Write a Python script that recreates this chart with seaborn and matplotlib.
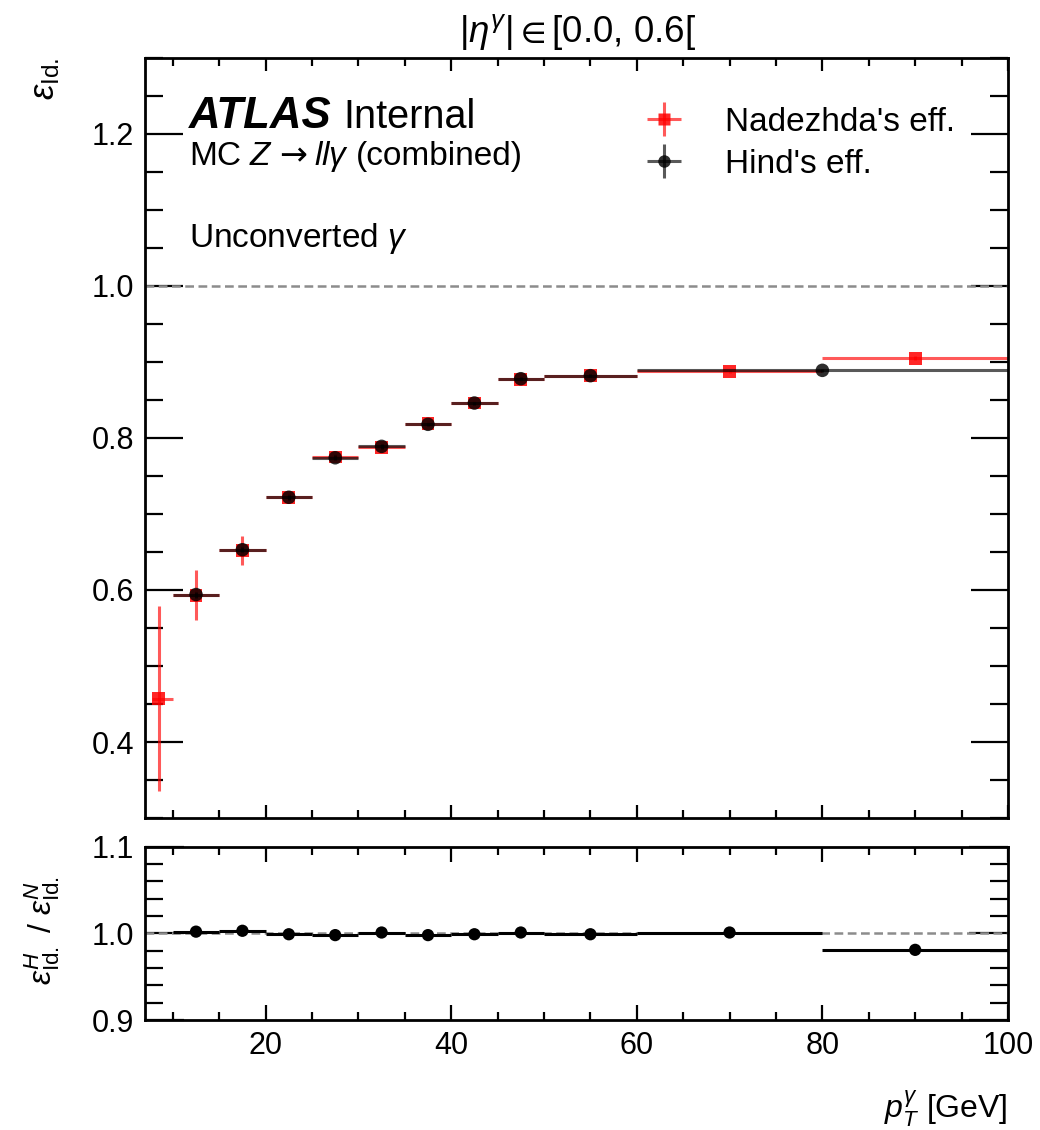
import numpy as np
import pandas as pd
import matplotlib
matplotlib.use("Agg")
import matplotlib.pyplot as plt
import seaborn as sns
from matplotlib.ticker import MultipleLocator, NullFormatter
from matplotlib.lines import Line2D

# ---------------- data ----------------
# Nadezhda's efficiency (red squares)
n_pt = [8.5, 12.5, 17.5, 22.5, 27.5, 32.5, 37.5, 42.5, 47.5, 55.0, 70.0, 90.0]
n_xlo = [0.75, 2.5, 2.5, 2.5, 2.5, 2.5, 2.5, 2.5, 2.5, 5.0, 10.0, 10.0]
n_xhi = [1.5, 2.5, 2.5, 2.5, 2.5, 2.5, 2.5, 2.5, 2.5, 5.0, 10.0, 10.0]
n_eff = [0.457, 0.593, 0.652, 0.722, 0.775, 0.788, 0.819, 0.846, 0.877, 0.882, 0.888, 0.905]
n_err = [0.122, 0.033, 0.019, 0.005, 0.004, 0.004, 0.003, 0.003, 0.003, 0.002, 0.002, 0.003]

# Hind's efficiency (black circles)
h_pt = [12.5, 17.5, 22.5, 27.5, 32.5, 37.5, 42.5, 47.5, 55.0, 80.0]
h_xerr = [2.5, 2.5, 2.5, 2.5, 2.5, 2.5, 2.5, 2.5, 5.0, 20.0]
h_eff = [0.594, 0.653, 0.722, 0.774, 0.789, 0.818, 0.846, 0.878, 0.882, 0.889]
h_err = [0.004, 0.003, 0.003, 0.003, 0.003, 0.002, 0.002, 0.002, 0.002, 0.002]

# ratio H / N
r_pt = [12.5, 17.5, 22.5, 27.5, 32.5, 37.5, 42.5, 47.5, 55.0, 70.0, 90.0]
r_xerr = [2.5, 2.5, 2.5, 2.5, 2.5, 2.5, 2.5, 2.5, 5.0, 10.0, 10.0]
r_val = [1.002, 1.003, 0.999, 0.998, 1.001, 0.998, 0.999, 1.001, 0.999, 1.001, 0.981]

x_ticks = [20, 40, 60, 80, 100]
main_yticks = [0.4, 0.6, 0.8, 1.0, 1.2]
ratio_yticks = [0.9, 1.0, 1.1]

df_n = pd.DataFrame({"pt": n_pt, "eff": n_eff})
df_h = pd.DataFrame({"pt": h_pt, "eff": h_eff})
df_r = pd.DataFrame({"pt": r_pt, "ratio": r_val})

# ---------------- style ----------------
sns.set_theme(style="ticks")
plt.rcParams["font.family"] = ["Liberation Sans", "DejaVu Sans"]
plt.rcParams["mathtext.fontset"] = "custom"
plt.rcParams["mathtext.rm"] = "Liberation Sans"
plt.rcParams["mathtext.it"] = "Liberation Sans:italic"
plt.rcParams["mathtext.bf"] = "Liberation Sans:bold"
plt.rcParams["mathtext.fallback"] = "stixsans"
plt.rcParams["axes.linewidth"] = 2.0
for k in ["text.color", "axes.labelcolor", "xtick.color", "ytick.color", "axes.edgecolor"]:
    plt.rcParams[k] = "black"

RED = "#ff0000"
BLK = "#000000"
DASH = (0, (3.5, 1.8))

fig = plt.figure(figsize=(10.4, 11.3), dpi=100)
ax = fig.add_axes([0.1394, 0.2761, 0.8298, 0.6726])
rax = fig.add_axes([0.1394, 0.0973, 0.8298, 0.1534])

# ---------------- main panel ----------------
ax.axhline(1.0, color="#8c8c8c", lw=1.8, ls=DASH, zorder=1)

eb_n = ax.errorbar(n_pt, n_eff, xerr=[n_xlo, n_xhi], yerr=n_err, fmt="none",
                   ecolor=RED, elinewidth=2.2, alpha=0.65, capsize=0, zorder=2)
sns.scatterplot(data=df_n, x="pt", y="eff", marker="s", s=85, color=RED,
                edgecolor="none", alpha=0.85, ax=ax, zorder=3, legend=False)

eb_h = ax.errorbar(h_pt, h_eff, xerr=h_xerr, yerr=h_err, fmt="none",
                   ecolor=BLK, elinewidth=2.2, alpha=0.65, capsize=0, zorder=4)
sns.scatterplot(data=df_h, x="pt", y="eff", marker="o", s=95, color=BLK,
                edgecolor="none", alpha=0.82, ax=ax, zorder=5, legend=False)

ax.set_xlim(7, 100)
ax.set_ylim(0.3, 1.3)
ax.set_xlabel("")
ax.set_ylabel("")
ax.xaxis.set_major_locator(plt.FixedLocator(x_ticks))
ax.xaxis.set_minor_locator(MultipleLocator(5))
ax.xaxis.set_major_formatter(NullFormatter())
ax.yaxis.set_major_locator(plt.FixedLocator(main_yticks))
ax.yaxis.set_minor_locator(MultipleLocator(0.05))
ax.set_yticklabels([f"{v:.1f}" for v in main_yticks])
ax.tick_params(axis="both", which="both", direction="in", top=True, right=True,
               width=1.6, colors="black")
ax.tick_params(axis="y", which="major", length=27, labelsize=22, pad=8)
ax.tick_params(axis="y", which="minor", length=13)
ax.tick_params(axis="x", which="major", length=9.5)
ax.tick_params(axis="x", which="minor", length=5.5)

# legend
h_red = (eb_n, Line2D([], [], marker="s", ls="none", color=RED, ms=9, alpha=0.85, mec="none"))
h_blk = (eb_h, Line2D([], [], marker="o", ls="none", color=BLK, ms=9, alpha=0.82, mec="none"))
ax.legend([h_red, h_blk], ["Nadezhda's eff.", "Hind's eff."], loc="upper left",
          bbox_to_anchor=(0.5817, 0.936), frameon=False, fontsize=24,
          handlelength=1.02, handletextpad=1.32, labelspacing=0.33, borderpad=0,
          borderaxespad=0)

# annotations
def axfrac(px):
    return (px - 145) / 863

ax.text(axfrac(189), 0.9079, "ATLAS", transform=ax.transAxes, fontsize=31.5,
        fontweight="bold", fontstyle="italic", va="baseline")
ax.text(axfrac(343), 0.9079, "Internal", transform=ax.transAxes, fontsize=28.5, va="baseline")
mc_parts = [("MC", 189, None), (r"$Z$", 249, None), ("\u2192", 279, ["DejaVu Sans"]),
            (r"$ll\gamma$", 314, None), ("(combined)", 356, None)]
for s, px, fam in mc_parts:
    kw = {"family": fam} if fam else {}
    ax.text(axfrac(px), 0.8592, s, transform=ax.transAxes, fontsize=24,
            va="baseline", **kw)
ax.text(axfrac(189), 0.7513, r"Unconverted $\gamma$", transform=ax.transAxes,
        fontsize=24, va="baseline")

fig.text(0.555, 1 - 42 / 1130, r"$|\eta^{\gamma}| \in $[0.0, 0.6[", ha="center",
         va="baseline", fontsize=26.5)
fig.text(45 / 1040, 1 - 58 / 1130, r"$\varepsilon_{\mathrm{Id.}}$", rotation=90,
         ha="center", va="top", fontsize=25)

# ---------------- ratio panel ----------------
rax.axhline(1.0, color="#8c8c8c", lw=1.8, ls=DASH, zorder=1)
rax.errorbar(r_pt, r_val, xerr=r_xerr, fmt="none", ecolor=BLK, elinewidth=2.2,
             capsize=0, zorder=2)
sns.scatterplot(data=df_r, x="pt", y="ratio", marker="o", s=78, color=BLK,
                edgecolor="none", ax=rax, zorder=3, legend=False)
rax.set_xlim(7, 100)
rax.set_ylim(0.9, 1.1)
rax.set_xlabel("")
rax.set_ylabel("")
rax.xaxis.set_major_locator(plt.FixedLocator(x_ticks))
rax.xaxis.set_minor_locator(MultipleLocator(5))
rax.set_xticklabels([str(v) for v in x_ticks])
rax.yaxis.set_major_locator(plt.FixedLocator(ratio_yticks))
rax.yaxis.set_minor_locator(MultipleLocator(0.02))
rax.set_yticklabels([f"{v:.1f}" for v in ratio_yticks])
rax.tick_params(axis="both", which="both", direction="in", top=True, right=True,
                width=1.6, colors="black")
rax.tick_params(axis="y", which="major", length=28, labelsize=22, pad=8)
rax.tick_params(axis="y", which="minor", length=13)
rax.tick_params(axis="x", which="major", length=11, labelsize=22, pad=8)
rax.tick_params(axis="x", which="minor", length=6)

fig.text(42 / 1040, 1 - 930 / 1130,
         r"$\varepsilon^{H}_{\mathrm{Id.}}$ / $\varepsilon^{N}_{\mathrm{Id.}}$",
         rotation=90, ha="center", va="center", fontsize=23)
fig.text(1008 / 1040, 1 - 1118 / 1130, r"$p_{T}^{\gamma}$ [GeV]", ha="right",
         va="baseline", fontsize=23)

fig.savefig("out.png", dpi=100)
